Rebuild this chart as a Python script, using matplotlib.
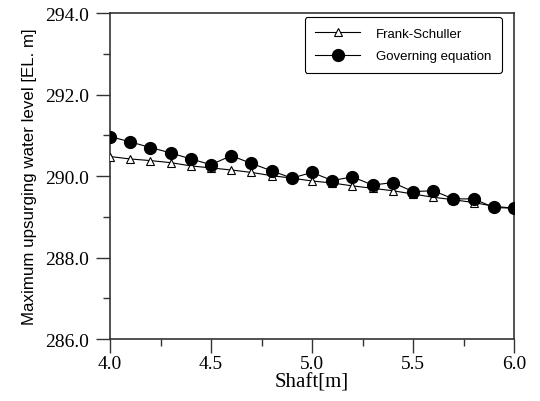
import matplotlib
matplotlib.use("Agg")
import matplotlib.pyplot as plt
from matplotlib.ticker import MultipleLocator, FormatStrFormatter

# Shaft diameter [m]
shaft = [4.0, 4.1, 4.2, 4.3, 4.4, 4.5, 4.6, 4.7, 4.8, 4.9, 5.0,
         5.1, 5.2, 5.3, 5.4, 5.5, 5.6, 5.7, 5.8, 5.9, 6.0]

# Maximum upsurging water level [EL. m]
frank_schuller = [290.48, 290.42, 290.38, 290.33, 290.25, 290.20, 290.15,
                  290.09, 290.01, 289.95, 289.88, 289.83, 289.76, 289.70,
                  289.64, 289.56, 289.48, 289.42, 289.35, 289.26, 289.21]
governing_eq = [290.97, 290.84, 290.70, 290.57, 290.42, 290.28, 290.50,
                290.31, 290.13, 289.95, 290.09, 289.89, 289.98, 289.78,
                289.84, 289.62, 289.64, 289.44, 289.44, 289.23, 289.21]

serif = "Liberation Serif"
sans = "Liberation Sans"

fig = plt.figure(figsize=(5.4, 4.02), dpi=100)
ax = fig.add_axes([0.2037, 0.154, 0.7483, 0.811])

ax.plot(shaft, frank_schuller, color="black", lw=0.8, marker="^",
        markersize=6, markerfacecolor="white", markeredgecolor="black",
        markeredgewidth=0.8, label="Frank-Schuller", zorder=3)
ax.plot(shaft, governing_eq, color="black", lw=0.8, marker="o",
        markersize=8.5, markerfacecolor="black", markeredgecolor="black",
        label="Governing equation", zorder=4)

ax.set_xlim(4.0, 6.0)
ax.set_ylim(286.0, 294.0)
ax.xaxis.set_major_locator(MultipleLocator(0.5))
ax.xaxis.set_minor_locator(MultipleLocator(0.25))
ax.yaxis.set_major_locator(MultipleLocator(2.0))
ax.yaxis.set_minor_locator(MultipleLocator(1.0))
ax.xaxis.set_major_formatter(FormatStrFormatter("%.1f"))
ax.yaxis.set_major_formatter(FormatStrFormatter("%.1f"))

for side in ax.spines.values():
    side.set_linewidth(1.2)
    side.set_color("#333333")

ax.tick_params(which="major", direction="out", length=10, width=1.0,
               color="#333333", pad=5)
ax.tick_params(which="minor", direction="out", length=5, width=1.0,
               color="#333333")
ax.tick_params(axis="x", which="major", pad=1.5)
for lab in ax.get_xticklabels() + ax.get_yticklabels():
    lab.set_fontfamily(serif)
    lab.set_fontsize(14)

ax.set_xlabel("Shaft[m]", fontfamily=serif, fontsize=15, labelpad=0)
ax.set_ylabel("Maximum upsurging water level [EL. m]", fontfamily=sans,
              fontsize=12.2, labelpad=6)

leg = ax.legend(loc="upper right", bbox_to_anchor=(0.97, 0.987),
                prop={"family": sans, "size": 9.5}, frameon=True,
                fancybox=True, edgecolor="black", framealpha=1,
                handlelength=3.4, borderpad=0.8, labelspacing=0.75,
                handletextpad=1.2, borderaxespad=0)
leg.get_frame().set_linewidth(0.8)

fig.savefig("out.png", dpi=100)
